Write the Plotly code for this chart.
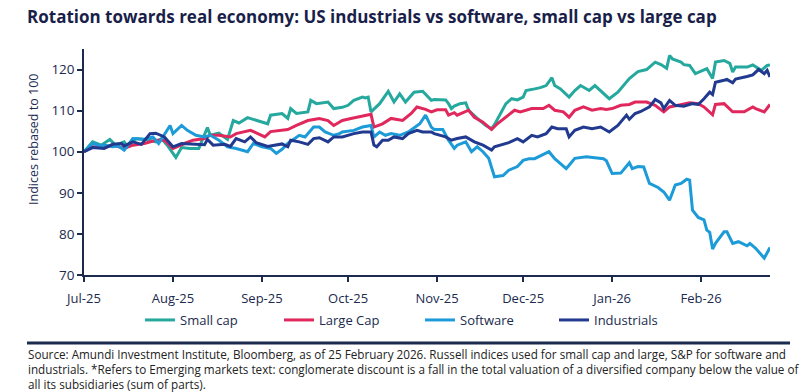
import plotly.graph_objects as go

# ---------------- data ----------------
sc_dates = ["2025-07-01","2025-07-04","2025-07-07","2025-07-10","2025-07-12","2025-07-15","2025-07-16","2025-07-19",
            "2025-07-23","2025-07-26","2025-07-28","2025-07-30","2025-08-02","2025-08-04","2025-08-07","2025-08-10",
            "2025-08-13","2025-08-14","2025-08-17","2025-08-20","2025-08-22","2025-08-24","2025-08-27","2025-09-01",
            "2025-09-03","2025-09-04","2025-09-08","2025-09-10","2025-09-11","2025-09-13","2025-09-17","2025-09-18",
            "2025-09-20","2025-09-24","2025-09-26","2025-09-29","2025-10-01","2025-10-03","2025-10-06","2025-10-07",
            "2025-10-08","2025-10-09","2025-10-12","2025-10-15","2025-10-17","2025-10-19","2025-10-21","2025-10-24",
            "2025-10-27","2025-10-30","2025-10-31","2025-11-04","2025-11-05","2025-11-06","2025-11-07","2025-11-09",
            "2025-11-11","2025-11-12","2025-11-15","2025-11-18","2025-11-20","2025-11-21","2025-11-23","2025-11-25",
            "2025-11-27","2025-11-29","2025-12-01","2025-12-02","2025-12-05","2025-12-07","2025-12-09","2025-12-11",
            "2025-12-12","2025-12-14","2025-12-17","2025-12-19","2025-12-21","2025-12-24","2025-12-26","2025-12-28",
            "2025-12-31","2026-01-03","2026-01-05","2026-01-07","2026-01-10","2026-01-13","2026-01-16","2026-01-18",
            "2026-01-20","2026-01-21","2026-01-22","2026-01-25","2026-01-26","2026-01-28","2026-01-30","2026-02-01",
            "2026-02-03","2026-02-05","2026-02-06","2026-02-09","2026-02-11","2026-02-12","2026-02-13","2026-02-17",
            "2026-02-19","2026-02-22","2026-02-24","2026-02-25"]
sc_vals = [100.0,102.4,101.6,103.0,101.6,102.4,101.2,103.2,
           103.0,102.4,103.2,101.6,98.6,101.0,100.8,100.8,
           105.9,104.0,104.5,103.0,107.6,107.0,108.3,107.2,
           106.8,108.9,109.3,108.1,110.5,109.3,109.7,112.5,
           111.7,112.1,110.5,110.8,111.3,112.5,113.3,113.1,
           113.3,109.7,111.7,114.7,112.1,114.1,112.1,114.5,
           114.7,112.5,112.7,112.6,111.7,110.5,111.1,111.7,
           111.9,110.1,108.1,106.4,105.6,106.6,109.3,111.7,
           112.9,112.6,113.3,114.9,115.3,115.6,116.1,118.0,
           116.1,115.3,113.3,114.9,116.1,114.9,116.1,114.9,
           112.9,114.5,116.1,117.8,119.5,120.0,121.8,121.2,
           120.3,123.4,122.6,121.8,121.2,121.0,119.0,119.6,
           120.2,117.8,121.8,122.2,121.5,119.4,120.6,120.6,
           121.1,119.8,121.0,121.1]

lc_dates = ["2025-07-01","2025-07-04","2025-07-08","2025-07-11","2025-07-15","2025-07-18","2025-07-22","2025-07-26",
            "2025-07-29","2025-08-01","2025-08-05","2025-08-08","2025-08-12","2025-08-14","2025-08-17","2025-08-21",
            "2025-08-23","2025-08-26","2025-08-28","2025-08-30","2025-09-02","2025-09-04","2025-09-08","2025-09-10",
            "2025-09-13","2025-09-17","2025-09-21","2025-09-24","2025-09-26","2025-09-29","2025-10-02","2025-10-06",
            "2025-10-08","2025-10-09","2025-10-10","2025-10-13","2025-10-16","2025-10-20","2025-10-23","2025-10-25",
            "2025-10-28","2025-10-30","2025-11-01","2025-11-04","2025-11-05","2025-11-07","2025-11-08","2025-11-12",
            "2025-11-14","2025-11-17","2025-11-19","2025-11-20","2025-11-22","2025-11-25","2025-11-28","2025-11-30",
            "2025-12-04","2025-12-08","2025-12-10","2025-12-12","2025-12-15","2025-12-17","2025-12-19","2025-12-22",
            "2025-12-25","2025-12-28","2025-12-30","2026-01-01","2026-01-04","2026-01-07","2026-01-09","2026-01-13",
            "2026-01-16","2026-01-19","2026-01-21","2026-01-24","2026-01-28","2026-01-31","2026-02-02","2026-02-05",
            "2026-02-06","2026-02-09","2026-02-12","2026-02-16","2026-02-19","2026-02-20","2026-02-23","2026-02-25"]
lc_vals = [100.0,101.2,101.0,101.6,100.8,101.6,102.0,102.8,
           102.8,100.8,102.0,102.8,103.2,104.0,104.0,103.6,
           104.4,104.8,105.2,104.6,103.6,104.9,105.2,105.4,
           106.4,107.6,108.1,107.6,106.4,107.6,108.1,108.7,
           108.9,109.1,106.0,106.8,108.1,107.6,109.3,110.9,
           110.3,109.7,110.2,110.2,108.9,109.5,108.9,110.1,
           108.4,107.2,106.0,105.4,106.8,108.4,110.1,109.7,
           110.5,110.5,111.3,110.1,109.7,108.4,110.1,110.9,
           110.1,110.5,110.3,110.5,111.3,111.5,112.1,112.1,
           111.3,109.7,110.9,111.3,111.9,111.7,110.9,109.0,
           111.5,111.7,109.7,109.7,110.9,110.5,109.7,111.5]

sw_dates = ["2025-07-01","2025-07-04","2025-07-07","2025-07-08","2025-07-11","2025-07-13","2025-07-15","2025-07-18",
            "2025-07-22","2025-07-25","2025-07-27","2025-07-31","2025-08-01","2025-08-04","2025-08-06","2025-08-09",
            "2025-08-12","2025-08-14","2025-08-17","2025-08-20","2025-08-23","2025-08-27","2025-08-29","2025-09-01",
            "2025-09-04","2025-09-06","2025-09-08","2025-09-10","2025-09-14","2025-09-16","2025-09-19","2025-09-21",
            "2025-09-23","2025-09-26","2025-09-28","2025-09-29","2025-10-03","2025-10-06","2025-10-09","2025-10-10",
            "2025-10-12","2025-10-14","2025-10-16","2025-10-19","2025-10-22","2025-10-26","2025-10-28","2025-10-30",
            "2025-10-31","2025-11-03","2025-11-05","2025-11-07","2025-11-08","2025-11-11","2025-11-13","2025-11-15",
            "2025-11-17","2025-11-19","2025-11-21","2025-11-24","2025-11-26","2025-11-29","2025-12-01","2025-12-03",
            "2025-12-05","2025-12-08","2025-12-10","2025-12-12","2025-12-14","2025-12-16","2025-12-17","2025-12-19",
            "2025-12-23","2025-12-26","2025-12-29","2025-12-30","2026-01-01","2026-01-04","2026-01-07","2026-01-08",
            "2026-01-10","2026-01-12","2026-01-14","2026-01-17","2026-01-19","2026-01-21","2026-01-23","2026-01-25",
            "2026-01-27","2026-01-28","2026-01-29","2026-01-31","2026-02-02","2026-02-03","2026-02-04","2026-02-05",
            "2026-02-06","2026-02-09","2026-02-10","2026-02-12","2026-02-14","2026-02-17","2026-02-18","2026-02-20",
            "2026-02-23","2026-02-25"]
sw_vals = [100.0,102.0,101.4,101.6,101.2,101.4,100.4,103.2,
           103.0,103.6,102.0,106.4,104.4,106.4,105.2,104.0,
           103.6,104.0,102.8,101.2,100.8,100.0,102.0,101.2,
           100.8,99.6,100.6,102.0,104.0,103.6,106.0,106.0,
           104.8,104.0,104.4,104.8,105.2,106.0,106.4,103.6,
           104.8,104.0,104.4,104.0,104.8,106.8,108.9,106.0,
           105.4,105.4,102.8,100.8,101.6,102.4,100.0,101.2,
           100.0,98.4,93.9,94.2,95.5,96.4,97.9,98.3,
           98.3,99.2,100.0,98.3,97.1,95.9,96.7,98.4,
           98.8,98.6,98.3,97.8,94.7,94.8,97.3,95.9,
           96.4,96.3,92.3,91.3,90.2,88.2,91.9,92.3,
           93.3,93.1,85.8,84.0,83.4,80.9,80.4,76.3,
           77.7,80.5,80.5,77.7,78.1,77.1,77.7,76.5,
           74.1,76.7]

ind_dates = ["2025-07-01","2025-07-04","2025-07-08","2025-07-11","2025-07-14","2025-07-15","2025-07-18","2025-07-21",
             "2025-07-24","2025-07-26","2025-07-29","2025-08-01","2025-08-04","2025-08-08","2025-08-12","2025-08-13",
             "2025-08-15","2025-08-19","2025-08-21","2025-08-23","2025-08-26","2025-08-28","2025-08-30","2025-09-03",
             "2025-09-05","2025-09-08","2025-09-10","2025-09-11","2025-09-14","2025-09-17","2025-09-19","2025-09-21",
             "2025-09-24","2025-09-26","2025-09-29","2025-10-01","2025-10-03","2025-10-06","2025-10-09","2025-10-10",
             "2025-10-11","2025-10-13","2025-10-15","2025-10-17","2025-10-20","2025-10-22","2025-10-25","2025-10-27",
             "2025-10-30","2025-10-31","2025-11-04","2025-11-06","2025-11-08","2025-11-11","2025-11-14","2025-11-17",
             "2025-11-20","2025-11-21","2025-11-23","2025-11-26","2025-11-29","2025-12-01","2025-12-04","2025-12-06",
             "2025-12-09","2025-12-11","2025-12-13","2025-12-16","2025-12-17","2025-12-19","2025-12-22","2025-12-25",
             "2025-12-28","2025-12-31","2026-01-03","2026-01-06","2026-01-07","2026-01-09","2026-01-11","2026-01-14",
             "2026-01-16","2026-01-18","2026-01-19","2026-01-21","2026-01-23","2026-01-26","2026-01-29","2026-01-31",
             "2026-02-02","2026-02-04","2026-02-05","2026-02-06","2026-02-09","2026-02-10","2026-02-12","2026-02-13",
             "2026-02-17","2026-02-19","2026-02-21","2026-02-23","2026-02-24","2026-02-25"]
ind_vals = [100.0,101.0,100.8,101.8,102.0,101.4,102.4,101.8,
            104.4,104.5,103.6,101.2,102.0,101.8,101.7,103.0,
            101.6,101.8,101.3,103.2,102.4,103.6,102.2,101.3,
            101.6,101.9,101.2,102.8,102.4,101.8,103.2,103.4,
            102.4,103.6,103.6,104.0,104.4,104.8,104.8,101.6,
            101.2,102.8,102.8,103.6,103.2,104.4,105.2,104.8,
            104.8,104.4,103.6,102.8,103.2,103.6,102.4,101.6,
            100.4,101.2,101.6,102.2,103.2,102.4,104.0,103.6,
            104.4,106.0,105.6,105.6,103.6,105.2,106.0,105.6,
            106.0,104.8,106.4,108.9,107.9,109.3,109.8,110.9,
            112.7,111.9,110.5,112.5,111.3,111.1,111.7,111.5,
            112.9,114.5,113.9,116.9,117.4,117.6,116.8,117.7,
            118.3,118.7,120.0,119.0,119.8,118.2]

series_names = ["Small cap", "Large Cap", "Software", "Industrials"]
series_colors = ["#25A89D", "#E1285C", "#1C9BD8", "#213A8F"]

tick_dates = ["2025-07-01","2025-08-01","2025-09-01","2025-10-01","2025-11-01","2025-12-01","2026-01-01","2026-02-01"]
tick_labels = ["Jul-25","Aug-25","Sep-25","Oct-25","Nov-25","Dec-25","Jan-26","Feb-26"]

title_text = "Rotation towards real economy: US industrials vs software, small cap vs large cap"
y_title = "Indices rebased to 100"
footnote_lines = [
    "Source: Amundi Investment Institute, Bloomberg, as of 25 February 2026. Russell indices used for small cap and large, S&P for software and",
    "industrials. *Refers to Emerging markets text: conglomerate discount is a fall in the total valuation of a diversified company below the value of",
    "all its subsidiaries (sum of parts).",
]

NAVY = "#1B2A4E"
FONT = "Open Sans"
W, H = 800, 392
L, R, T, B = 84, 30, 49, 117
PW, PH = W - L - R, H - T - B


def px_x(x):  # pixel x in the page -> paper coordinate
    return (x - L) / PW


def px_y(y):  # pixel y in the page -> paper coordinate
    return (H - B - y) / PH


legend_line_px = [149, 288, 429, 563]
legend_keys = ["legend", "legend2", "legend3", "legend4"]

fig = go.Figure()
for name, color, xs, ys, lk in zip(series_names, series_colors,
                                   [sc_dates, lc_dates, sw_dates, ind_dates],
                                   [sc_vals, lc_vals, sw_vals, ind_vals], legend_keys):
    fig.add_trace(go.Scatter(x=xs, y=ys, mode="lines", name=name, legend=lk,
                             line=dict(color=color, width=3)))

legend_common = dict(orientation="h", xanchor="left", yanchor="middle", itemwidth=30,
                     font=dict(size=13, color=NAVY, family=FONT), bgcolor="rgba(0,0,0,0)")
legend_layout = {lk: dict(x=px_x(lx - 9), y=px_y(320), **legend_common)
                 for lk, lx in zip(legend_keys, legend_line_px)}

fig.update_layout(
    width=W, height=H,
    margin=dict(l=L, r=R, t=T, b=B, autoexpand=False),
    paper_bgcolor="white", plot_bgcolor="white",
    font=dict(family=FONT, color=NAVY, size=13),
    title=dict(text="<b>" + title_text + "</b>", xref="container", x=27 / W, xanchor="left",
               y=1 - 17 / H, yanchor="middle", font=dict(size=17, color="#1A1F4A", family=FONT)),
    showlegend=True,
    **legend_layout,
)

fig.update_xaxes(type="date", range=["2025-07-01", "2026-02-25"],
                 tickvals=tick_dates, ticktext=tick_labels,
                 showgrid=False, zeroline=False, showline=True, linecolor=NAVY, linewidth=1.5,
                 ticks="outside", ticklen=5, tickcolor=NAVY, tickwidth=1.5, ticklabelstandoff=6,
                 tickfont=dict(size=13, color=NAVY, family=FONT))
fig.update_yaxes(range=[70, 125], tickvals=[70, 80, 90, 100, 110, 120],
                 showgrid=False, zeroline=False, showline=True, linecolor=NAVY, linewidth=1.5,
                 ticks="outside", ticklen=5, tickcolor=NAVY, tickwidth=1.5,
                 tickfont=dict(size=13.5, color=NAVY, family=FONT))

# y-axis title, placed where the reference shows it
fig.add_annotation(xref="paper", yref="paper", x=px_x(33), y=px_y(140), xanchor="center", yanchor="middle",
                   textangle=-90, showarrow=False, text=y_title,
                   font=dict(size=12.5, color=NAVY, family=FONT))

# separator rule above the source note
fig.add_shape(type="line", xref="paper", yref="paper", layer="above",
              x0=px_x(27), x1=px_x(790), y0=px_y(343), y1=px_y(343),
              line=dict(color=NAVY, width=3))

# source note as one three-line text block
fig.add_annotation(xref="paper", yref="paper", x=px_x(26), y=px_y(368.5), xanchor="left", yanchor="middle",
                   align="left", showarrow=False, text="<br>".join(footnote_lines),
                   font=dict(size=11.7, color="#222222", family=FONT))

# remove the default 8px page margin so the figure fills the 800x392 window exactly
fig.write_html("out.html", config={"displayModeBar": False},
               post_script="document.body.style.margin='0';document.body.style.overflow='hidden';")
